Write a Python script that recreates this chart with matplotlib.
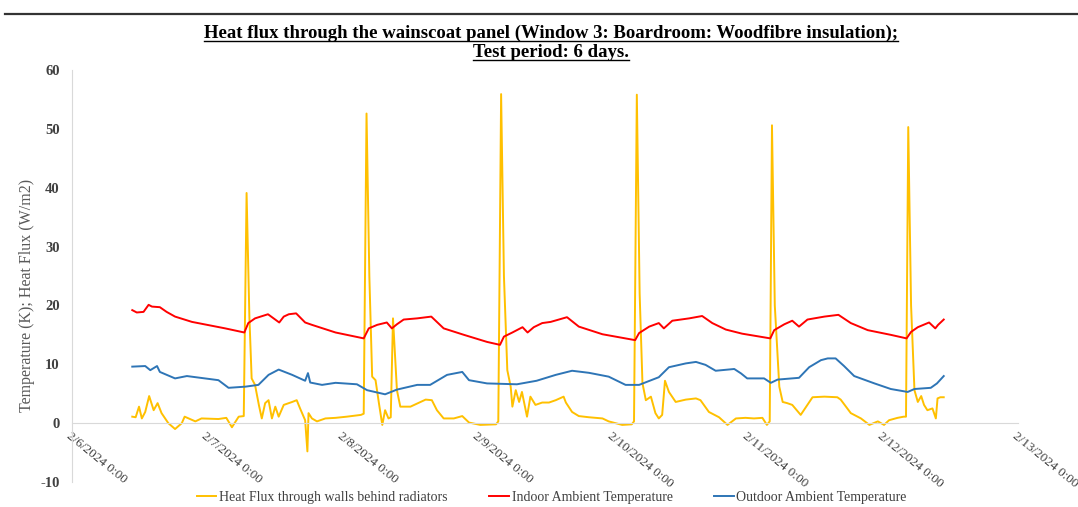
import datetime as dt
import matplotlib
matplotlib.use("Agg")
import matplotlib.pyplot as plt
import matplotlib.dates as mdates
from matplotlib.lines import Line2D
from matplotlib.ticker import FuncFormatter

# hours after 2/6/2024 0:00 and values
flux_h = [10.7, 11.3, 11.9, 12.4, 13.0, 13.7, 14.5, 15.2, 15.9, 17.1, 18.3, 19.5, 20.0, 21.9, 23.0,
          26.0, 27.4, 28.4, 29.6, 30.5, 31.0, 31.5, 31.9, 32.5, 33.2, 33.7, 34.3, 34.9, 35.5, 36.1,
          36.7, 37.6, 39.1, 39.9, 40.5, 41.4, 41.8, 42.0, 42.6, 43.5, 45.0, 46.8, 48.8, 51.3, 51.8,
          52.3, 52.8, 53.3, 53.9, 54.5, 55.1, 55.6, 56.2, 56.6, 57.0, 57.7, 58.3, 60.1, 61.9, 62.8,
          63.9, 64.8, 66.0, 67.8, 69.3, 70.5, 72.5, 75.3, 75.7, 76.2, 76.7, 77.3, 77.9, 78.2, 78.8,
          79.4, 79.9, 80.5, 80.8, 81.4, 82.3, 83.5, 84.7, 85.9, 87.3, 87.7, 88.8, 90.0, 91.8, 94.2,
          95.3, 97.7, 99.4, 99.8, 100.3, 100.8, 101.3, 101.9, 102.8, 103.6, 104.2, 104.8, 105.3,
          106.0, 107.2, 109.0, 110.8, 111.6, 113.1, 114.9, 116.4, 117.9, 119.6, 121.1, 122.6, 123.4,
          123.9, 124.3, 124.8, 125.6, 126.2, 127.0, 127.9, 129.4, 130.6, 131.5, 133.6, 135.9, 136.5,
          138.3, 140.1, 141.6, 143.1, 144.2, 145.1, 146.6, 147.7, 148.1, 148.5, 149.0, 149.6, 150.2,
          150.8, 151.3, 151.9, 152.8, 153.4, 153.7, 154.2, 154.8]
flux_v = [1.1, 1.0, 2.8, 0.8, 1.9, 4.6, 2.2, 3.4, 1.7, 0.0, -1.0, 0.0, 1.1, 0.3, 0.8,
          0.7, 0.9, -0.7, 1.1, 1.2, 39.1, 18.0, 7.6, 6.5, 3.0, 0.8, 3.4, 3.9, 0.8, 2.8,
          1.1, 3.1, 3.6, 3.9, 2.5, 0.5, -4.8, 1.7, 0.8, 0.3, 0.8, 0.9, 1.1, 1.4, 1.6,
          52.6, 25.0, 7.9, 7.3, 3.4, -0.3, 2.2, 0.8, 1.0, 17.8, 5.6, 2.8, 2.8, 3.6, 4.0,
          3.9, 2.2, 0.8, 0.8, 1.2, 0.1, -0.3, -0.2, 0.3, 55.9, 25.0, 9.0, 6.2, 2.8, 5.6,
          3.6, 5.3, 2.5, 1.1, 4.5, 3.1, 3.5, 3.5, 3.9, 4.5, 3.5, 1.9, 1.2, 1.0, 0.8,
          0.3, -0.3, -0.2, 0.3, 55.8, 22.0, 6.8, 3.9, 4.5, 1.7, 0.8, 1.4, 7.2,
          5.3, 3.6, 4.0, 4.2, 3.9, 1.9, 1.0, -0.3, 0.8, 0.9, 0.8, 0.9, -0.3,
          0.3, 50.6, 20.0, 6.2, 3.6, 3.4, 3.1, 1.4, 3.1, 4.4, 4.5, 4.4, 4.0,
          1.7, 0.8, -0.3, 0.3, -0.3, 0.5, 0.9, 1.1, 1.1, 50.3, 20.0, 5.6, 3.6,
          4.6, 3.1, 2.2, 2.5, 0.8, 4.2, 4.4, 4.4]

indoor_h = [10.7, 11.5, 12.7, 13.6, 14.2, 15.6, 16.8, 18.3, 21.3, 27.2, 30.6, 31.3, 32.5, 34.8,
            35.8, 36.8, 37.6, 38.5, 39.8, 41.4, 42.6, 46.8, 48.8, 51.8, 52.7, 54.2, 55.9, 56.8,
            57.7, 58.9, 61.3, 63.8, 66.0, 69.6, 73.7, 76.0, 76.7, 78.2, 80.0, 80.9, 82.0, 83.5,
            85.0, 87.9, 90.0, 94.2, 100.0, 100.7, 102.5, 104.2, 105.1, 106.6, 109.6, 111.9, 113.7,
            116.1, 119.0, 124.0, 124.7, 126.5, 127.9, 129.1, 130.6, 133.6, 136.1, 138.3, 141.3,
            145.4, 148.2, 149.0, 150.2, 152.2, 153.3, 153.8, 154.8]
indoor_v = [19.2, 18.8, 18.9, 20.1, 19.8, 19.7, 18.9, 18.1, 17.2, 16.1, 15.4, 17.0, 17.8, 18.5,
            17.8, 17.1, 18.1, 18.5, 18.65, 17.1, 16.7, 15.4, 15.0, 14.4, 16.1, 16.7, 17.1, 16.1,
            16.8, 17.6, 17.8, 18.1, 16.1, 15.0, 13.8, 13.3, 14.7, 15.4, 16.3, 15.4, 16.3, 17.0,
            17.2, 18.0, 16.4, 15.1, 14.1, 15.3, 16.4, 17.0, 16.1, 17.4, 17.8, 18.2, 17.0,
            15.9, 15.2, 14.4, 15.8, 16.8, 17.4, 16.4, 17.6, 18.1, 18.4, 17.0, 15.8,
            15.0, 14.4, 15.5, 16.3, 17.1, 16.1, 16.7, 17.6]

outdoor_h = [10.7, 13.0, 13.9, 15.1, 15.6, 18.3, 20.4, 23.6, 26.0, 27.8, 30.8, 33.1, 34.9, 36.7,
             39.1, 41.4, 41.9, 42.3, 44.4, 46.8, 50.6, 52.4, 55.6, 57.7, 61.3, 63.6, 66.6, 69.3,
             70.5, 73.7, 79.0, 82.5, 85.9, 88.8, 91.8, 95.3, 98.3, 100.7, 104.2, 106.0, 109.0,
             110.8, 112.5, 114.3, 117.6, 118.8, 119.9, 122.9, 124.1, 125.3, 129.1, 130.9, 133.0,
             134.2, 135.6, 137.1, 138.9, 142.5, 145.4, 148.4, 149.6, 152.5, 153.6, 154.8]
outdoor_v = [9.6, 9.7, 9.0, 9.7, 8.7, 7.6, 8.0, 7.6, 7.3, 6.0, 6.2, 6.5, 8.2, 9.1,
             8.2, 7.2, 8.5, 6.9, 6.5, 6.85, 6.6, 5.6, 4.9, 5.7, 6.5, 6.5, 8.2, 8.7,
             7.3, 6.75, 6.6, 7.2, 8.2, 8.9, 8.55, 7.9, 6.5, 6.5, 7.8, 9.5, 10.15,
             10.4, 9.9, 8.9, 9.2, 8.45, 7.6, 7.6, 6.85, 7.4, 7.7, 9.5, 10.7,
             11.0, 11.0, 9.7, 8.0, 6.75, 5.8, 5.3, 5.8, 6.0, 6.75, 8.0]

start = dt.datetime(2024, 2, 6)
to_dt = lambda hs: [start + dt.timedelta(hours=h) for h in hs]

plt.rcParams['font.family'] = ['Liberation Serif', 'DejaVu Serif']
plt.rcParams['axes.unicode_minus'] = False

fig = plt.figure(figsize=(10.78, 5.07), dpi=100)
ax = fig.add_axes([0.0668, 0.0493, 0.8776, 0.8127])

ax.plot(to_dt(flux_h), flux_v, color='#FFC000', lw=1.4, label='Heat Flux through walls behind radiators')
ax.plot(to_dt(indoor_h), indoor_v, color='#FF0000', lw=1.4, label='Indoor Ambient Temperature')
ax.plot(to_dt(outdoor_h), outdoor_v, color='#2E75B6', lw=1.4, label='Outdoor Ambient Temperature')

ax.set_ylim(-10, 60)
ax.set_yticks(range(-10, 61, 10))
ax.set_xlim(start, start + dt.timedelta(days=7))
ax.xaxis.set_major_locator(mdates.DayLocator())
ax.xaxis.set_major_formatter(FuncFormatter(
    lambda x, pos: (lambda d: f"{d.month}/{d.day}/{d.year} 0:00")(mdates.num2date(x))))

for s in ['top', 'right']:
    ax.spines[s].set_visible(False)
ax.spines['left'].set_color('#d9d9d9')
ax.spines['bottom'].set_color('#d9d9d9')
ax.spines['bottom'].set_position(('data', 0))
ax.tick_params(length=0)
ax.tick_params(axis='y', labelsize=10.5, labelcolor='#404040', pad=9)
ax.tick_params(axis='x', labelsize=9.5, labelcolor='#404040', pad=5)
for lab in ax.get_yticklabels():
    lab.set_fontweight('bold')
for lab in ax.get_xticklabels():
    lab.set_rotation(-39)
    lab.set_ha('left')
    lab.set_va('top')
    lab.set_rotation_mode('anchor')

ax.set_ylabel('Temperature (K); Heat Flux (W/m2)', fontsize=11.5, color='#595959')
ax.yaxis.set_label_coords(-0.039, 0.454)

# title lines with underline
W, H = fig.get_size_inches() * fig.dpi
titles = ['Heat flux through the wainscoat panel (Window 3: Boardroom: Woodfibre insulation);',
          'Test period: 6 days.']
base_y = [38, 57]
txts = []
for t, by in zip(titles, base_y):
    txts.append(fig.text(0.511, 1 - by / H, t, ha='center', va='baseline',
                         fontsize=13.5, fontweight='bold', color='black'))
fig.canvas.draw()
r = fig.canvas.get_renderer()
for t, by in zip(txts, base_y):
    bb = t.get_window_extent(r)
    yy = 1 - (by + 2.5) / H
    fig.add_artist(Line2D([bb.x0 / W, bb.x1 / W], [yy, yy], transform=fig.transFigure,
                          color='black', lw=1.0))

# border line at top
fig.add_artist(Line2D([5 / W, 1.0], [1 - 14 / H, 1 - 14 / H], transform=fig.transFigure,
                      color='#333333', lw=1.6))

fig.legend(loc='lower center', bbox_to_anchor=(0.512, -0.018), ncol=3, frameon=False,
           fontsize=10, handlelength=1.4, handletextpad=0.2, columnspacing=3.0,
           labelcolor='#404040')

fig.savefig('out.png', dpi=100)
